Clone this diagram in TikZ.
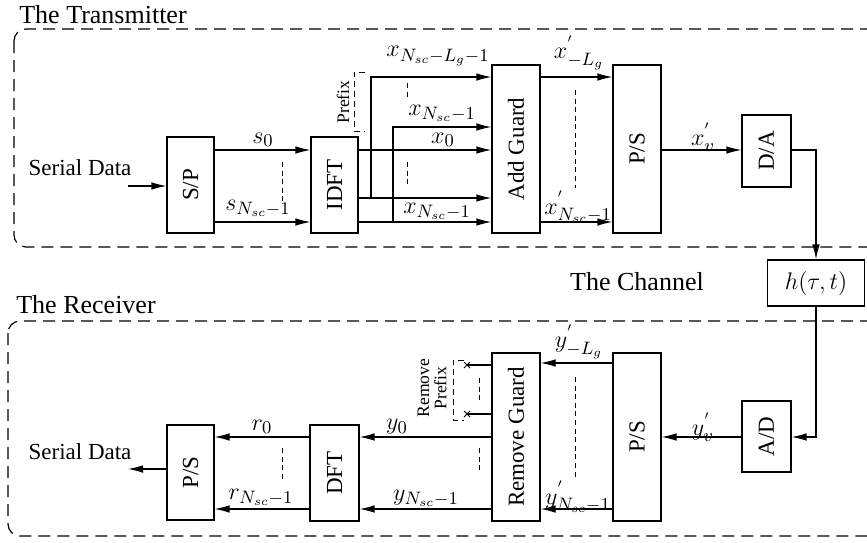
\documentclass[tikz,border=0pt]{standalone}
\usepackage{fontspec}
\setmainfont{Liberation Serif}
\usetikzlibrary{arrows.meta}
\begin{document}
\begin{tikzpicture}[x=0.5pt,y=-0.5pt,
  blk/.style={draw, line width=0.6pt, inner sep=0pt, font=\fontsize{11.5}{13}\selectfont},
  arr/.style={line width=0.6pt,-{Latex[length=7.5pt,width=3.8pt]}},
  ln/.style={line width=0.6pt},
  grp/.style={draw, dash pattern=on 6pt off 3.5pt, rounded corners=6pt, line width=0.6pt},
  dots/.style={dash pattern=on 2.5pt off 1.8pt, line width=0.5pt},
  lbl/.style={font=\fontsize{12.5}{14}\selectfont, inner sep=0pt},
  ttl/.style={font=\fontsize{13}{15}\selectfont, inner sep=0pt},
  txt/.style={font=\fontsize{11.5}{13}\selectfont, inner sep=0pt},
  small/.style={font=\fontsize{8.8}{8.6}\selectfont, inner sep=0pt, align=center},
]
\path[use as bounding box, clip] (0,0) rectangle (867,542);

% group frames
\draw[grp] (14,29) rectangle (885,247);
\draw[grp] (8,321) rectangle (885,536);
\node[ttl] (ttx) at (103,15) {The Transmitter};
\node[ttl] (trx) at (86,305) {The Receiver};
\node[ttl] (tch) at (637,282) {The Channel};

% ---------------- transmitter ----------------
\node[blk, minimum width=23.5pt, minimum height=48pt] (sp) at (190.5,185) {\rotatebox{90}{S/P}};
\node[blk, minimum width=23.5pt, minimum height=48pt] (idft) at (334.5,185) {\rotatebox{90}{IDFT}};
\node[blk, minimum width=24pt, minimum height=84pt] (ag) at (516,149) {\rotatebox{90}{Add Guard}};
\node[blk, minimum width=24pt, minimum height=84pt] (ps1) at (637,149) {\rotatebox{90}{P/S}};
\node[blk, minimum width=24.5pt, minimum height=36pt] (da) at (766.5,151) {\rotatebox{90}{D/A}};
\node[blk, minimum width=48.5pt, minimum height=23pt, font=\fontsize{12.5}{14}\selectfont] (h) at (816,283) {$h(\tau,t)$};

\node[txt] (sdi) at (80,168) {Serial Data};
\coordinate (sdin) at (128,186);
\draw[arr] (sdin) -- (sdin -| sp.west);

\coordinate (ta) at (0,77);
\coordinate (tb) at (0,127);
\coordinate (tc) at (0,150);
\coordinate (td) at (0,198);
\coordinate (te) at (0,222);
\coordinate (v1) at (371,198);
\coordinate (v2) at (393,222);

\draw[arr] (sp.east |- tc) -- (idft.west |- tc);
\draw[arr] (sp.east |- te) -- (idft.west |- te);
\draw[dots] (282,162) -- (282,205);
\node[lbl] (ls0) at (263,140) {$s_0$};
\node[lbl] (ls1) at (258,208) {$s_{N_{sc}-1}$};

\draw[arr] (idft.east |- tc) -- (ag.west |- tc);
\draw[arr] (idft.east |- td) -- (ag.west |- td);
\draw[arr] (idft.east |- te) -- (ag.west |- te);
\draw[arr] (v1) |- (ag.west |- ta);
\draw[arr] (v2) |- (ag.west |- tb);
\draw[dots] (407,83) -- (407,98);
\draw[dots] (407,162) -- (407,187);
\draw[dash pattern=on 3pt off 2pt, line width=0.5pt] (365,72) -- (354,72) -- (354,131) -- (365,131);
\node[small, rotate=90] (pfx) at (343,102) {Prefix};
\node[lbl] (lx1) at (438,56) {$x_{N_{sc}-L_g-1}$};
\node[lbl] (lx2) at (442,113) {$x_{N_{sc}-1}$};
\node[lbl] (lx3) at (443,140) {$x_0$};
\node[lbl] (lx4) at (437,211) {$x_{N_{sc}-1}$};

\draw[arr] (ag.east |- ta) -- (ps1.west |- ta);
\draw[arr] (ag.east |- te) -- (ps1.west |- te);
\draw[dots] (575,90) -- (575,188);
\node[lbl] (lx5) at (579,53) {$x^{'}_{-L_g}$};
\node[lbl] (lx6) at (578,207) {$x^{'}_{N_{sc}-1}$};

\draw[arr] (ps1.east |- tc) -- (da.west |- tc);
\node[lbl] (lxv) at (703,137) {$x^{'}_{v}$};
\draw[arr] (da.east |- tc) -| (h.north);

% ---------------- receiver ----------------
\node[blk, minimum width=24pt, minimum height=84pt] (ps2) at (637,437) {\rotatebox{90}{P/S}};
\node[blk, minimum width=24.5pt, minimum height=35.5pt] (ad) at (766.5,436.5) {\rotatebox{90}{A/D}};
\node[blk, minimum width=24pt, minimum height=84pt] (rg) at (516,437) {\rotatebox{90}{Remove Guard}};
\node[blk, minimum width=24.5pt, minimum height=48pt] (dft) at (334.5,473) {\rotatebox{90}{DFT}};
\node[blk, minimum width=23.5pt, minimum height=47.5pt] (ps3) at (190.5,472.5) {\rotatebox{90}{P/S}};

\coordinate (ra) at (0,363);
\coordinate (rb) at (0,437);
\coordinate (rc) at (0,509);
\coordinate (rx1) at (467,365);
\coordinate (rx2) at (467,414);

\draw[arr] (h.south) |- (ad.east |- rb);
\draw[arr] (ad.west |- rb) -- (ps2.east |- rb);
\node[lbl] (lyv) at (703,427) {$y^{'}_{v}$};

\draw[arr] (ps2.west |- ra) -- (rg.east |- ra);
\draw[arr] (ps2.west |- rc) -- (rg.east |- rc);
\draw[dots] (575,377) -- (575,477);
\node[lbl] (ly1) at (579,342) {$y^{'}_{-L_g}$};
\node[lbl] (ly2) at (578,497) {$y^{'}_{N_{sc}-1}$};

\draw[ln] (rg.west |- rx1) -- (rx1);
\draw[ln] (rg.west |- rx2) -- (rx2);
\draw[line width=0.5pt] (rx1) ++(-3,-3) -- ++(6,6) ++(0,-6) -- ++(-6,6);
\draw[line width=0.5pt] (rx2) ++(-3,-3) -- ++(6,6) ++(0,-6) -- ++(-6,6);
\draw[dots] (479,378) -- (479,402);
\draw[dash pattern=on 3pt off 2pt, line width=0.5pt] (464,360) -- (453,360) -- (453,420) -- (464,420);
\node[small, rotate=90] (rpfx) at (432,388) {Remove\\Prefix};

\draw[arr] (rg.west |- rb) -- (dft.east |- rb);
\draw[arr] (rg.west |- rc) -- (dft.east |- rc);
\draw[dots] (479,448) -- (479,473);
\node[lbl] (ly3) at (397,427) {$y_0$};
\node[lbl] (ly4) at (426,498) {$y_{N_{sc}-1}$};

\draw[arr] (dft.west |- rb) -- (ps3.east |- rb);
\draw[arr] (dft.west |- rc) -- (ps3.east |- rc);
\draw[dots] (282,448) -- (282,480);
\node[lbl] (lr0) at (262,427) {$r_0$};
\node[lbl] (lr1) at (261,497) {$r_{N_{sc}-1}$};

\coordinate (sdout) at (128,469);
\draw[arr] (ps3.west |- sdout) -- (sdout);
\node[txt] (sdo) at (80,452) {Serial Data};
\end{tikzpicture}
\end{document}
